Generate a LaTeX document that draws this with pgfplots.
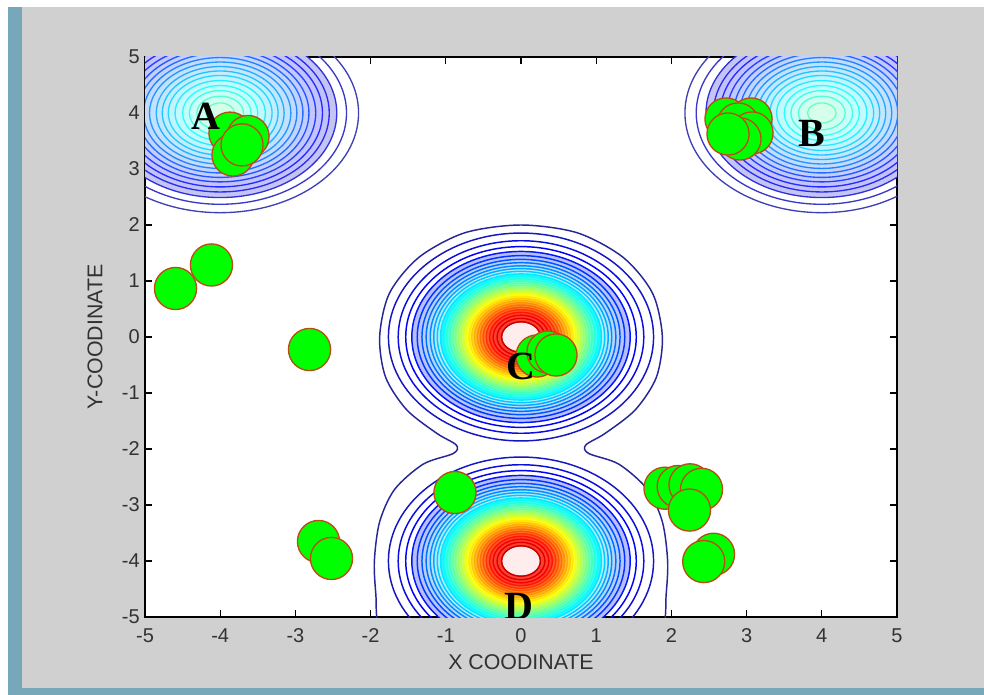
\documentclass[border=0pt]{standalone}
\usepackage{fontspec}
\setmainfont{Liberation Sans}
\newfontfamily\lserif{Liberation Serif}
\usepackage{pgfplots}
\pgfplotsset{compat=1.18}
\usepackage{pgfplotstable}

\definecolor{bggray}{RGB}{208,208,208}
\definecolor{stripc}{RGB}{118,168,186}
\definecolor{labgray}{RGB}{50,50,50}
\definecolor{cgreen}{RGB}{0,255,0}
\definecolor{cedge}{RGB}{190,75,20}
\definecolor{navyc}{RGB}{38,38,150}
\definecolor{corec}{RGB}{255,236,236}

\pgfdeclareplotmark{ring}{%
  \pgfpathellipse{\pgfpointorigin}{\pgfpoint{\rxv*56.4pt}{0pt}}{\pgfpoint{0pt}{\ryv*42pt}}%
  \pgfusepathqstroke}
\pgfdeclareplotmark{disc}{%
  \pgfpathellipse{\pgfpointorigin}{\pgfpoint{\rxv*56.4pt}{0pt}}{\pgfpoint{0pt}{\ryv*42pt}}%
  \pgfusepathqfill}

% contour rings of peaks C (0,0) and D (0,-4): centre, radii (data units), level t
\pgfplotstableread{
x y rx ry t
0 0 1.763 1.856 0.059
0 0 1.633 1.719 0.088
0 0 1.533 1.614 0.118
0 0 1.452 1.528 0.147
0 0 1.380 1.453 0.176
0 0 1.317 1.386 0.206
0 0 1.261 1.327 0.235
0 0 1.207 1.271 0.265
0 0 1.160 1.221 0.294
0 0 1.113 1.172 0.324
0 0 1.070 1.126 0.353
0 0 1.027 1.081 0.382
0 0 0.987 1.039 0.412
0 0 0.947 0.997 0.441
0 0 0.909 0.957 0.471
0 0 0.872 0.918 0.500
0 0 0.835 0.879 0.529
0 0 0.799 0.841 0.559
0 0 0.763 0.803 0.588
0 0 0.727 0.765 0.618
0 0 0.691 0.727 0.647
0 0 0.655 0.689 0.676
0 0 0.618 0.651 0.706
0 0 0.580 0.611 0.735
0 0 0.542 0.571 0.765
0 0 0.503 0.529 0.794
0 0 0.463 0.487 0.824
0 0 0.418 0.440 0.853
0 0 0.371 0.390 0.882
0 0 0.318 0.335 0.912
0 0 0.258 0.272 0.941
0 -4 1.763 1.856 0.059
0 -4 1.633 1.719 0.088
0 -4 1.533 1.614 0.118
0 -4 1.452 1.528 0.147
0 -4 1.380 1.453 0.176
0 -4 1.317 1.386 0.206
0 -4 1.261 1.327 0.235
0 -4 1.207 1.271 0.265
0 -4 1.160 1.221 0.294
0 -4 1.113 1.172 0.324
0 -4 1.070 1.126 0.353
0 -4 1.027 1.081 0.382
0 -4 0.987 1.039 0.412
0 -4 0.947 0.997 0.441
0 -4 0.909 0.957 0.471
0 -4 0.872 0.918 0.500
0 -4 0.835 0.879 0.529
0 -4 0.799 0.841 0.559
0 -4 0.763 0.803 0.588
0 -4 0.727 0.765 0.618
0 -4 0.691 0.727 0.647
0 -4 0.655 0.689 0.676
0 -4 0.618 0.651 0.706
0 -4 0.580 0.611 0.735
0 -4 0.542 0.571 0.765
0 -4 0.503 0.529 0.794
0 -4 0.463 0.487 0.824
0 -4 0.418 0.440 0.853
0 -4 0.371 0.390 0.882
0 -4 0.318 0.335 0.912
0 -4 0.258 0.272 0.941
}\ringsCD

% contour rings of peaks A (-4,4) and B (4,4)
\pgfplotstableread{
x y rx ry t
-4 4 1.84 1.78 0.030
-4 4 1.68 1.63 0.055
-4 4 1.55 1.51 0.080
-4 4 1.45 1.41 0.105
-4 4 1.36 1.32 0.130
-4 4 1.27 1.23 0.155
-4 4 1.18 1.15 0.180
-4 4 1.10 1.07 0.205
-4 4 1.02 0.99 0.230
-4 4 0.94 0.91 0.255
-4 4 0.85 0.83 0.280
-4 4 0.77 0.75 0.305
-4 4 0.69 0.67 0.330
-4 4 0.60 0.58 0.355
-4 4 0.50 0.49 0.380
-4 4 0.41 0.40 0.405
-4 4 0.31 0.30 0.430
-4 4 0.19 0.18 0.455
4 4 1.82 1.78 0.030
4 4 1.67 1.63 0.055
4 4 1.54 1.51 0.080
4 4 1.44 1.41 0.105
4 4 1.35 1.32 0.130
4 4 1.26 1.23 0.155
4 4 1.17 1.15 0.180
4 4 1.09 1.07 0.205
4 4 1.01 0.99 0.230
4 4 0.93 0.91 0.255
4 4 0.85 0.83 0.280
4 4 0.77 0.75 0.305
4 4 0.69 0.67 0.330
4 4 0.60 0.58 0.355
4 4 0.50 0.49 0.380
4 4 0.41 0.40 0.405
4 4 0.31 0.30 0.430
4 4 0.19 0.18 0.455
}\ringsAB

% pale cores of peaks C and D
\pgfplotstableread{
x y rx ry
0 0 0.25 0.26
0 -4 0.25 0.26
}\cores

\begin{document}
\begin{tikzpicture}
% window background
\fill[white] (0,0) rectangle (738pt,-521.25pt);
\fill[bggray] (16.5pt,-5.25pt) rectangle (738pt,-516pt);
\fill[stripc] (6pt,-5.25pt) rectangle (16.5pt,-521.25pt);
\fill[stripc] (6pt,-516pt) rectangle (738pt,-521.25pt);
\begin{axis}[
  at={(108.75pt,-42.75pt)}, anchor=north west,
  scale only axis, width=564pt, height=420pt,
  xmin=-5, xmax=5, ymin=-5, ymax=5,
  enlargelimits=false,
  xtick={-5,...,5}, ytick={-5,...,5},
  tick align=inside, major tick length=5.25pt,
  tick style={black, line width=0.9pt},
  axis line style={black, line width=1.1pt},
  axis background/.style={fill=white},
  /pgf/number format/assume math mode=true,
  tick label style={font=\fontsize{15}{18}\selectfont, text=labgray},
  xticklabel style={inner sep=0pt, yshift=-8.25pt},
  yticklabel style={inner sep=0pt, xshift=-3.75pt},
  label style={font=\fontsize{16}{19}\selectfont, text=labgray},
  xlabel={X COODINATE},
  ylabel={Y-COODINATE},
  xlabel style={at={(axis description cs:0.5,-0.0946)}, anchor=base, inner sep=0pt},
  ylabel style={at={(axis description cs:-0.0665,0.5)}, anchor=center, inner sep=0pt},
  clip marker paths=true,
  colormap={cmap}{rgb255(0cm)=(40,40,140); rgb255(1cm)=(0,0,255); rgb255(3cm)=(0,255,255); rgb255(5cm)=(255,255,0); rgb255(7cm)=(255,0,0); rgb255(8cm)=(150,0,0)},
  point meta min=0, point meta max=1,
  ringstyle/.style={scatter, only marks, point meta=explicit,
    visualization depends on={\thisrow{rx} \as \rxv},
    visualization depends on={\thisrow{ry} \as \ryv}},
]
% shaded bands between contour lines (outer to inner)
\addplot[ringstyle, mark=disc,
  restrict expr to domain={\thisrow{t}}{0.14:0.335},
  scatter/use mapped color={draw=none, fill=mapped color!28!white}]
  table[x=x, y=y, meta=t] {\ringsCD};
\addplot[ringstyle, mark=disc,
  restrict expr to domain={\thisrow{t}}{0.34:0.86},
  scatter/use mapped color={draw=none, fill=mapped color!82!white}]
  table[x=x, y=y, meta=t] {\ringsCD};
\addplot[ringstyle, mark=disc,
  restrict expr to domain={\thisrow{t}}{0.07:0.46},
  scatter/use mapped color={draw=none, fill=mapped color!24!white}]
  table[x=x, y=y, meta=t] {\ringsAB};
\addplot[only marks, mark=disc,
  visualization depends on={\thisrow{rx} \as \rxv},
  visualization depends on={\thisrow{ry} \as \ryv},
  mark options={fill=corec, draw=none}] table[x=x, y=y] {\cores};
% contour lines
\addplot[ringstyle, mark=ring,
  scatter/use mapped color={draw=mapped color, fill=none},
  mark options={line width=1.1pt}] table[x=x, y=y, meta=t] {\ringsCD};
\addplot[ringstyle, mark=ring,
  scatter/use mapped color={draw=mapped color!85!white, fill=none},
  mark options={line width=1.0pt}] table[x=x, y=y, meta=t] {\ringsAB};
% outermost contour joining C and D
\addplot[smooth cycle, draw=navyc, line width=1.1pt] coordinates {
(0,2.0) (0.75,1.86) (1.36,1.42) (1.75,0.78) (1.88,0.0) (1.8,-0.72) (1.52,-1.3) (1.12,-1.72) (0.86,-1.93) (0.9,-2.08) (1.3,-2.27) (1.68,-2.72) (1.88,-3.3) (1.95,-4.0) (1.93,-4.6) (1.88,-5.2) (1.5,-5.6) (0,-5.8) (-1.5,-5.6) (-1.88,-5.2) (-1.93,-4.6) (-1.95,-4.0) (-1.88,-3.3) (-1.68,-2.72) (-1.3,-2.27) (-0.9,-2.08) (-0.86,-1.93) (-1.12,-1.72) (-1.52,-1.3) (-1.8,-0.72) (-1.88,0) (-1.75,0.78) (-1.36,1.42) (-0.75,1.86)};
% agents
\addplot[only marks, mark=*, mark size=15.8pt, mark options={fill=cgreen, draw=cedge, line width=1.0pt}] coordinates {
(-4.594,0.866) (-4.116,1.286) (-2.812,-0.223)
(-2.693,-3.652) (-2.520,-3.955)
(-0.878,-2.777)
(1.915,-2.70) (2.09,-2.67) (2.247,-2.64) (2.40,-2.72) (2.24,-3.09)
(2.56,-3.88) (2.43,-4.01)
(-3.87,3.64) (-3.63,3.58) (-3.83,3.25) (-3.71,3.43)
(2.726,3.893) (3.059,3.893) (2.886,3.804) (3.072,3.643) (2.912,3.536) (2.753,3.625)
(0.213,-0.339) (0.359,-0.268) (0.465,-0.321)};
\node[font=\lserif\bfseries\fontsize{30}{30}\selectfont, inner sep=0pt] at (axis cs:-4.189,3.946) {A};
\node[font=\lserif\bfseries\fontsize{30}{30}\selectfont, inner sep=0pt] at (axis cs:3.870,3.634) {B};
\node[font=\lserif\bfseries\fontsize{30}{30}\selectfont, inner sep=0pt] at (axis cs:0.0,-0.518) {C};
\node[font=\lserif\bfseries\fontsize{30}{30}\selectfont, inner sep=0pt] at (axis cs:-0.027,-4.81) {D};
\end{axis}
\pgfresetboundingbox
\path (0,0) rectangle (738pt,-521.25pt);
\end{tikzpicture}
\end{document}
